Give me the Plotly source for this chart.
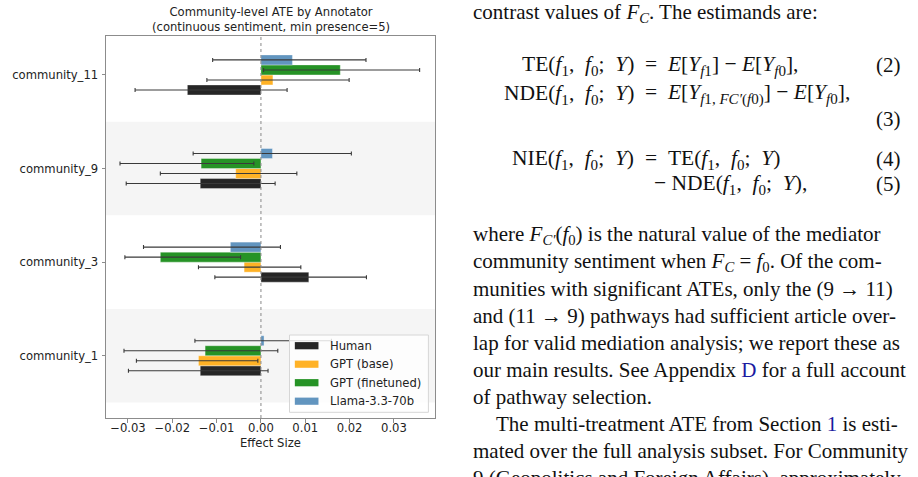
import plotly.graph_objects as go

# ---------------- data ----------------
communities = ["community_1", "community_3", "community_9", "community_11"]
annotators = ["Human", "GPT (base)", "GPT (finetuned)", "Llama-3.3-70b"]

human_ate = [-0.0137, 0.0108, -0.0137, -0.0166]
human_lo = [-0.0299, -0.0104, -0.0304, -0.0284]
human_hi = [0.0016, 0.0238, 0.0032, 0.0059]

gpt_base_ate = [-0.0141, -0.0038, -0.0057, 0.0027]
gpt_base_lo = [-0.0281, -0.0141, -0.0227, -0.0122]
gpt_base_hi = [-0.0007, 0.0090, 0.0081, 0.0199]

gpt_ft_ate = [-0.0126, -0.0227, -0.0135, 0.0179]
gpt_ft_lo = [-0.0309, -0.0307, -0.0318, 0.0006]
gpt_ft_hi = [0.0038, -0.0046, -0.0016, 0.0358]

llama_ate = [0.0007, -0.0069, 0.0026, 0.0071]
llama_lo = [-0.0149, -0.0265, -0.0153, -0.0109]
llama_hi = [0.0159, 0.0044, 0.0204, 0.0237]

x_ticks = [-0.03, -0.02, -0.01, 0.0, 0.01, 0.02, 0.03]

series = [
    (annotators[0], human_ate, human_lo, human_hi, "#262626"),
    (annotators[1], gpt_base_ate, gpt_base_lo, gpt_base_hi, "#ffb226"),
    (annotators[2], gpt_ft_ate, gpt_ft_lo, gpt_ft_hi, "#269326"),
    (annotators[3], llama_ate, llama_lo, llama_hi, "#6295bf"),
]

# ---------------- layout geometry ----------------
W, H = 918, 477
PL, PR, PT, PB = 101, 435, 36, 418
PW, PH = PR - PL, PB - PT


def px(x):
    return (x - PL) / PW


def py(y):
    return (PB - y) / PH


BAR_H = 0.107
offsets = [-1.5 * BAR_H, -0.5 * BAR_H, 0.5 * BAR_H, 1.5 * BAR_H]
cat_pos = list(range(len(communities)))

fig = go.Figure()
for (name, vals, lo, hi, col), off in zip(series, offsets):
    fig.add_trace(go.Bar(
        x=vals,
        y=[c + off for c in cat_pos],
        orientation="h",
        width=BAR_H,
        name=name,
        marker=dict(color=col, line=dict(color="rgba(255,255,255,0.6)", width=0.6)),
        error_x=dict(
            type="data", symmetric=False,
            array=[h - v for h, v in zip(hi, vals)],
            arrayminus=[v - l for v, l in zip(vals, lo)],
            color="#3a3a3a", thickness=1.1, width=2,
        ),
        showlegend=False,
    ))

shapes = []
# alternating shaded bands
for i, c in enumerate(cat_pos):
    if i % 2 == 0:
        shapes.append(dict(type="rect", xref="paper", yref="y", x0=0, x1=1,
                           y0=c - 0.5, y1=c + 0.5, fillcolor="#f5f5f5",
                           line=dict(width=0), layer="below"))
# zero reference line
shapes.append(dict(type="line", xref="x", yref="paper", x0=0, x1=0, y0=0, y1=1,
                   line=dict(color="#888888", width=1, dash="dot"), layer="above"))

# custom legend
shapes.append(dict(type="rect", xref="paper", yref="paper",
                   x0=px(287.3), x1=px(428.3), y0=py(412.3), y1=py(335),
                   fillcolor="rgba(255,255,255,0.82)",
                   line=dict(color="#d6d6d6", width=1), layer="above"))
annotations = []
leg_y = [345.7, 364.2, 382.7, 401.2]
for (name, vals, lo, hi, col), ly in zip(series, leg_y):
    shapes.append(dict(type="rect", xref="paper", yref="paper",
                       x0=px(292.7), x1=px(316.7), y0=py(ly + 3.6), y1=py(ly - 3.6),
                       fillcolor=col, line=dict(width=0), layer="above"))
    annotations.append(dict(x=px(326.5), y=py(ly), xref="paper", yref="paper",
                            text=name, showarrow=False, xanchor="left", yanchor="middle",
                            font=dict(family="DejaVu Sans", size=11.6, color="#222222")))

# chart title and x-axis label
annotations.append(dict(x=px(268), y=py(19), xref="paper", yref="paper",
                        text="Community-level ATE by Annotator<br>(continuous sentiment, min presence=5)",
                        showarrow=False, xanchor="center", yanchor="middle", align="center",
                        font=dict(family="DejaVu Sans", size=11.6, color="#222222")))
annotations.append(dict(x=px(268), y=py(443), xref="paper", yref="paper",
                        text="Effect Size", showarrow=False, xanchor="center", yanchor="middle",
                        font=dict(family="DejaVu Sans", size=11.6, color="#222222")))

# ---------------- paper text on the right ----------------
SERIF = "Liberation Serif"
FS = 21
LINK = "#1a1aa0"
NB = "\u00a0"


def txt(x, y, s, anchor="left", size=FS):
    annotations.append(dict(x=px(x), y=py(y), xref="paper", yref="paper", text=s,
                            showarrow=False, xanchor=anchor, yanchor="middle",
                            font=dict(family=SERIF, size=size, color="#111111")))


f1 = "<i>f</i><sub>1</sub>"
f0 = "<i>f</i><sub>0</sub>"
FC = "<i>F</i><sub><i>C</i></sub>"
args = f"({f1},{NB}{NB}{f0};{NB}{NB}<i>Y</i>)"

txt(472, 13, f"contrast values of {FC}. The estimands are:")
EQX = 646
EQ_FS = 21.5
txt(EQX - 7, 65, "TE" + args, anchor="right", size=EQ_FS)
txt(EQX, 65, f"={NB}{NB}<i>E</i>[<i>Y</i><sub><i>f</i>1</sub>]{NB}−{NB}<i>E</i>[<i>Y</i><sub><i>f</i>0</sub>],", size=EQ_FS)
txt(910, 65, "(2)", anchor="right")
txt(EQX - 7, 94, "NDE" + args, anchor="right", size=EQ_FS)
txt(EQX, 94, f"={NB}{NB}<i>E</i>[<i>Y</i><sub><i>f</i>1,{NB}<i>F</i><i>C′</i>(<i>f</i>0)</sub>]{NB}−{NB}<i>E</i>[<i>Y</i><sub><i>f</i>0</sub>],", size=EQ_FS)
txt(910, 119, "(3)", anchor="right")
txt(EQX - 7, 159, "NIE" + args, anchor="right", size=EQ_FS)
txt(EQX, 159, f"={NB}{NB}TE" + args, size=EQ_FS)
txt(910, 159, "(4)", anchor="right")
txt(EQX + 9, 184, f"−{NB}NDE" + args + ",", size=EQ_FS)
txt(910, 184, "(5)", anchor="right")

body = [
    (472, f"where <i>F</i><sub><i>C′</i></sub>({f0}) is the natural value of the mediator"),
    (472, f"community sentiment when {FC} = {f0}. Of the com-"),
    (472, "munities with significant ATEs, only the (9 → 11)"),
    (472, "and (11 → 9) pathways had sufficient article over-"),
    (472, "lap for valid mediation analysis; we report these as"),
    (472, f"our main results. See Appendix <span style='color:{LINK}'>D</span> for a full account"),
    (472, "of pathway selection."),
    (495, f"The multi-treatment ATE from Section <span style='color:{LINK}'>1</span> is esti-"),
    (472, "mated over the full analysis subset. For Community"),
    (472, "9 (Geopolitics and Foreign Affairs), approximately"),
]
for i, (x0, s) in enumerate(body):
    txt(x0, 234.5 + i * 27.1, s)

axis_font = dict(family="DejaVu Sans", size=11.6, color="#222222")
fig.update_layout(
    width=W, height=H,
    margin=dict(l=PL, r=W - PR, t=PT, b=H - PB, pad=0),
    plot_bgcolor="white", paper_bgcolor="white",
    barmode="overlay",
    shapes=shapes, annotations=annotations,
    xaxis=dict(range=[-0.03496, 0.03927], tickvals=x_ticks, tickformat=".2f",
               showgrid=False, zeroline=False, showline=True, mirror=True,
               linecolor="#8c8c8c", linewidth=1, ticks="outside", ticklen=3.5,
               tickcolor="#8c8c8c", tickfont=axis_font, ticklabelstandoff=-4),
    yaxis=dict(range=[-0.665, 3.416], tickvals=cat_pos, ticktext=communities,
               showgrid=False, zeroline=False, showline=True, mirror=True,
               linecolor="#8c8c8c", linewidth=1, ticks="outside", ticklen=3.5,
               tickcolor="#8c8c8c", tickfont=axis_font, ticklabelstandoff=1),
)

fig.write_html("out.html")
